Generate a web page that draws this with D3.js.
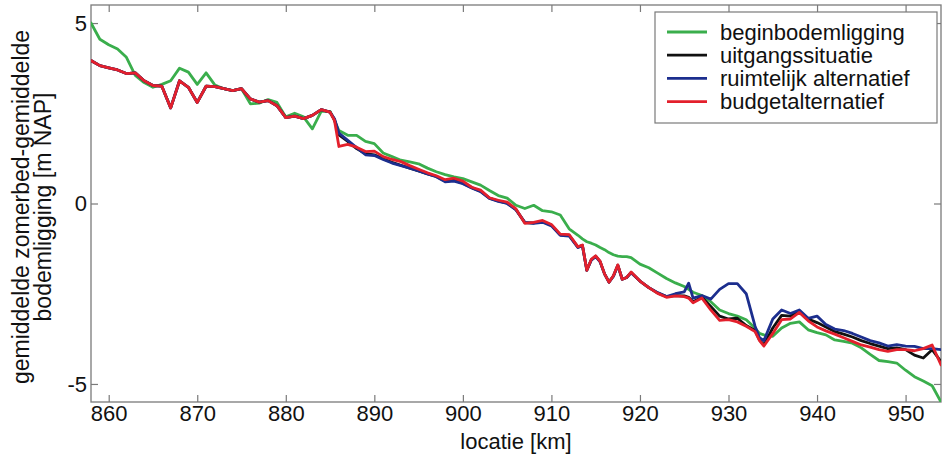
<!DOCTYPE html>
<html>
<head>
<meta charset="utf-8">
<script src="https://cdn.jsdelivr.net/npm/d3@7"></script>
<style>
  html, body { margin: 0; padding: 0; background: #ffffff; }
  svg { display: block; }
  text { font-family: "Liberation Sans", Arial, sans-serif; fill: #111; }
</style>
</head>
<body>
<svg id="chart" width="943" height="460"></svg>
<script>
// ---- data ----
const km = [
  858,859,860,861,862,863,864,865,866,867,
  868,869,870,871,872,873,874,875,876,877,
  878,879,880,881,882,883,884,885,885.5,
  886,887,888,889,890,891,892,893,894,895,
  896,897,898,899,900,901,902,903,904,905,
  906,907,908,909,910,911,912,913,
  913.5,914,914.5,915,915.5,916,916.5,917,917.5,918,918.5,
  919,920,921,922,923,924,925,925.5,
  926,927,928,929,930,931,932,933,933.5,
  934,935,936,937,938,939,940,941,942,943,
  944,945,946,947,948,949,950,951,952,953,954
];

const beginbodemligging = [
  5.00,4.55,4.40,4.28,4.05,3.55,3.35,3.22,3.30,3.40,
  3.75,3.64,3.30,3.62,3.28,3.18,3.13,3.18,2.76,2.78,
  2.88,2.80,2.40,2.50,2.40,2.07,2.55,2.55,2.30,
  2.02,1.89,1.89,1.72,1.66,1.40,1.30,1.20,1.15,1.10,
  0.98,0.88,0.80,0.74,0.69,0.60,0.51,0.36,0.22,0.15,
  -0.05,-0.14,-0.05,-0.20,-0.23,-0.32,-0.70,-0.88,
  -0.98,-1.06,-1.10,-1.15,-1.22,-1.28,-1.36,-1.42,-1.46,-1.47,-1.47,
  -1.50,-1.68,-1.78,-1.93,-2.08,-2.20,-2.30,-2.38,
  -2.46,-2.55,-2.72,-2.95,-3.05,-3.12,-3.22,-3.45,-3.60,
  -3.64,-3.68,-3.45,-3.32,-3.28,-3.50,-3.58,-3.64,-3.78,-3.82,
  -3.87,-4.00,-4.18,-4.35,-4.38,-4.42,-4.62,-4.80,-4.92,-5.05,-5.50
];

const uitgangssituatie = [
  3.96,3.82,3.76,3.70,3.60,3.62,3.40,3.27,3.25,2.65,
  3.40,3.22,2.80,3.25,3.24,3.18,3.13,3.18,2.90,2.81,
  2.85,2.71,2.38,2.42,2.35,2.44,2.60,2.53,2.32,
  1.90,1.72,1.52,1.38,1.35,1.24,1.14,1.06,0.98,0.90,
  0.82,0.75,0.62,0.64,0.56,0.44,0.34,0.15,0.07,0.01,
  -0.17,-0.53,-0.54,-0.50,-0.60,-0.87,-0.88,-1.21,
  -1.16,-1.85,-1.56,-1.46,-1.61,-1.95,-2.18,-2.01,-1.71,-2.10,-2.05,
  -1.91,-2.15,-2.33,-2.48,-2.58,-2.55,-2.56,-2.60,
  -2.72,-2.60,-2.85,-3.12,-3.20,-3.18,-3.38,-3.52,-3.78,
  -3.92,-3.45,-3.10,-3.12,-2.98,-3.20,-3.30,-3.42,-3.55,-3.62,
  -3.70,-3.80,-3.88,-3.95,-4.02,-4.00,-4.05,-4.20,-4.28,-4.05,-4.38
];

const ruimtelijkAlternatief = [
  3.96,3.82,3.76,3.70,3.60,3.62,3.40,3.27,3.25,2.65,
  3.40,3.22,2.80,3.25,3.24,3.18,3.13,3.18,2.90,2.81,
  2.85,2.71,2.38,2.42,2.35,2.44,2.60,2.53,2.35,
  1.95,1.75,1.55,1.35,1.33,1.22,1.12,1.05,0.98,0.90,
  0.82,0.74,0.60,0.62,0.55,0.43,0.33,0.14,0.06,0.00,
  -0.18,-0.52,-0.55,-0.52,-0.62,-0.88,-0.90,-1.22,
  -1.17,-1.85,-1.57,-1.47,-1.62,-1.95,-2.18,-2.02,-1.72,-2.10,-2.05,
  -1.92,-2.15,-2.33,-2.47,-2.58,-2.50,-2.45,-2.21,
  -2.62,-2.55,-2.65,-2.38,-2.22,-2.22,-2.50,-3.40,-3.72,
  -3.80,-3.20,-2.95,-3.05,-2.95,-3.18,-3.12,-3.35,-3.48,-3.52,
  -3.60,-3.70,-3.80,-3.86,-3.95,-3.91,-3.95,-3.96,-4.02,-4.02,-4.05
];

const budgetalternatief = [
  3.96,3.82,3.76,3.70,3.60,3.62,3.40,3.27,3.25,2.65,
  3.40,3.22,2.80,3.25,3.24,3.18,3.13,3.18,2.90,2.81,
  2.85,2.71,2.38,2.42,2.35,2.44,2.60,2.53,2.30,
  1.58,1.64,1.56,1.44,1.45,1.30,1.22,1.16,1.05,0.95,
  0.85,0.77,0.66,0.70,0.62,0.45,0.37,0.16,0.09,0.04,
  -0.15,-0.55,-0.52,-0.47,-0.58,-0.85,-0.86,-1.20,
  -1.15,-1.85,-1.55,-1.45,-1.60,-1.95,-2.18,-2.00,-1.70,-2.10,-2.05,
  -1.90,-2.15,-2.33,-2.49,-2.60,-2.56,-2.58,-2.62,
  -2.75,-2.62,-2.95,-3.24,-3.22,-3.28,-3.40,-3.55,-3.80,
  -3.95,-3.60,-3.22,-3.20,-3.02,-3.25,-3.42,-3.53,-3.62,-3.72,
  -3.82,-3.92,-3.98,-4.05,-4.10,-4.05,-4.05,-4.08,-4.02,-3.92,-4.47
];

const seriesNames = ["beginbodemligging", "uitgangssituatie", "ruimtelijk alternatief", "budgetalternatief"];
const seriesColors = ["#3aae4c", "#111111", "#1c2e8e", "#e3202c"];
const seriesValues = [beginbodemligging, uitgangssituatie, ruimtelijkAlternatief, budgetalternatief];

const xTicks = [860, 870, 880, 890, 900, 910, 920, 930, 940, 950];
const yTicks = [-5, 0, 5];
const xDomain = [858, 954];
const yDomain = [-5.5, 5.5];

// ---- layout ----
const L = 91, R = 941, T = 5, B = 402;
const svg = d3.select("#chart");
const x = d3.scaleLinear().domain(xDomain).range([L, R]);
const y = d3.scaleLinear().domain(yDomain).range([B, T]);

svg.append("defs").append("clipPath").attr("id", "clip")
  .append("rect").attr("x", L).attr("y", T).attr("width", R - L).attr("height", B - T);

const axisColor = "#7a7a7a";
const fontSize = 22;

function styleAxis(g, hideLabels) {
  g.select(".domain").remove();
  g.selectAll(".tick line").attr("stroke", axisColor).attr("stroke-width", 1.2);
  g.selectAll("text").style("font-size", fontSize + "px").attr("fill", "#111")
    .style("font-family", '"Liberation Sans", Arial, sans-serif');
  if (hideLabels) g.selectAll("text").remove();
}

svg.append("g").attr("transform", `translate(0,${B})`)
  .call(d3.axisBottom(x).tickValues(xTicks).tickSize(-7).tickPadding(3).tickFormat(d => String(d)))
  .call(g => styleAxis(g, false));
svg.append("g").attr("transform", `translate(0,${T})`)
  .call(d3.axisTop(x).tickValues(xTicks).tickSize(-7))
  .call(g => styleAxis(g, true));
svg.append("g").attr("transform", `translate(${L},0)`)
  .call(d3.axisLeft(y).tickValues(yTicks).tickSize(-7).tickPadding(4).tickFormat(d => String(d)))
  .call(g => styleAxis(g, false));
svg.append("g").attr("transform", `translate(${R},0)`)
  .call(d3.axisRight(y).tickValues(yTicks).tickSize(-7))
  .call(g => styleAxis(g, true));

svg.append("rect").attr("x", L).attr("y", T).attr("width", R - L).attr("height", B - T)
  .attr("fill", "none").attr("stroke", axisColor).attr("stroke-width", 1.3);

// ---- lines ----
const line = d3.line().x((d, i) => x(km[i])).y(d => y(d));
const plot = svg.append("g").attr("clip-path", "url(#clip)");
seriesValues.forEach((vals, s) => {
  plot.append("path").datum(vals)
    .attr("d", line)
    .attr("fill", "none")
    .attr("stroke", seriesColors[s])
    .attr("stroke-width", 2.8)
    .attr("stroke-linejoin", "round")
    .attr("stroke-linecap", "round");
});

// ---- axis titles ----
svg.append("text").attr("x", (L + R) / 2).attr("y", 449)
  .attr("text-anchor", "middle").style("font-size", fontSize + "px")
  .text("locatie [km]");

const yLab = svg.append("g").attr("transform", "translate(0,207)");
yLab.append("text").attr("transform", "translate(29,0) rotate(-90)")
  .attr("text-anchor", "middle").style("font-size", "23px")
  .text("gemiddelde zomerbed-gemiddelde");
yLab.append("text").attr("transform", "translate(51,0) rotate(-90)")
  .attr("text-anchor", "middle").style("font-size", "23px")
  .text("bodemligging [m NAP]");

// ---- legend ----
const lg = svg.append("g");
lg.append("rect").attr("x", 655).attr("y", 12).attr("width", 282).attr("height", 111)
  .attr("fill", "#fff").attr("stroke", axisColor).attr("stroke-width", 1.2);
seriesNames.forEach((name, i) => {
  const cy = 32 + i * 23.2;
  lg.append("line").attr("x1", 667).attr("x2", 707).attr("y1", cy).attr("y2", cy)
    .attr("stroke", seriesColors[i]).attr("stroke-width", 2.8);
  lg.append("text").attr("x", 720).attr("y", cy + 7.5)
    .style("font-size", fontSize + "px").text(name);
});
</script>
</body>
</html>
